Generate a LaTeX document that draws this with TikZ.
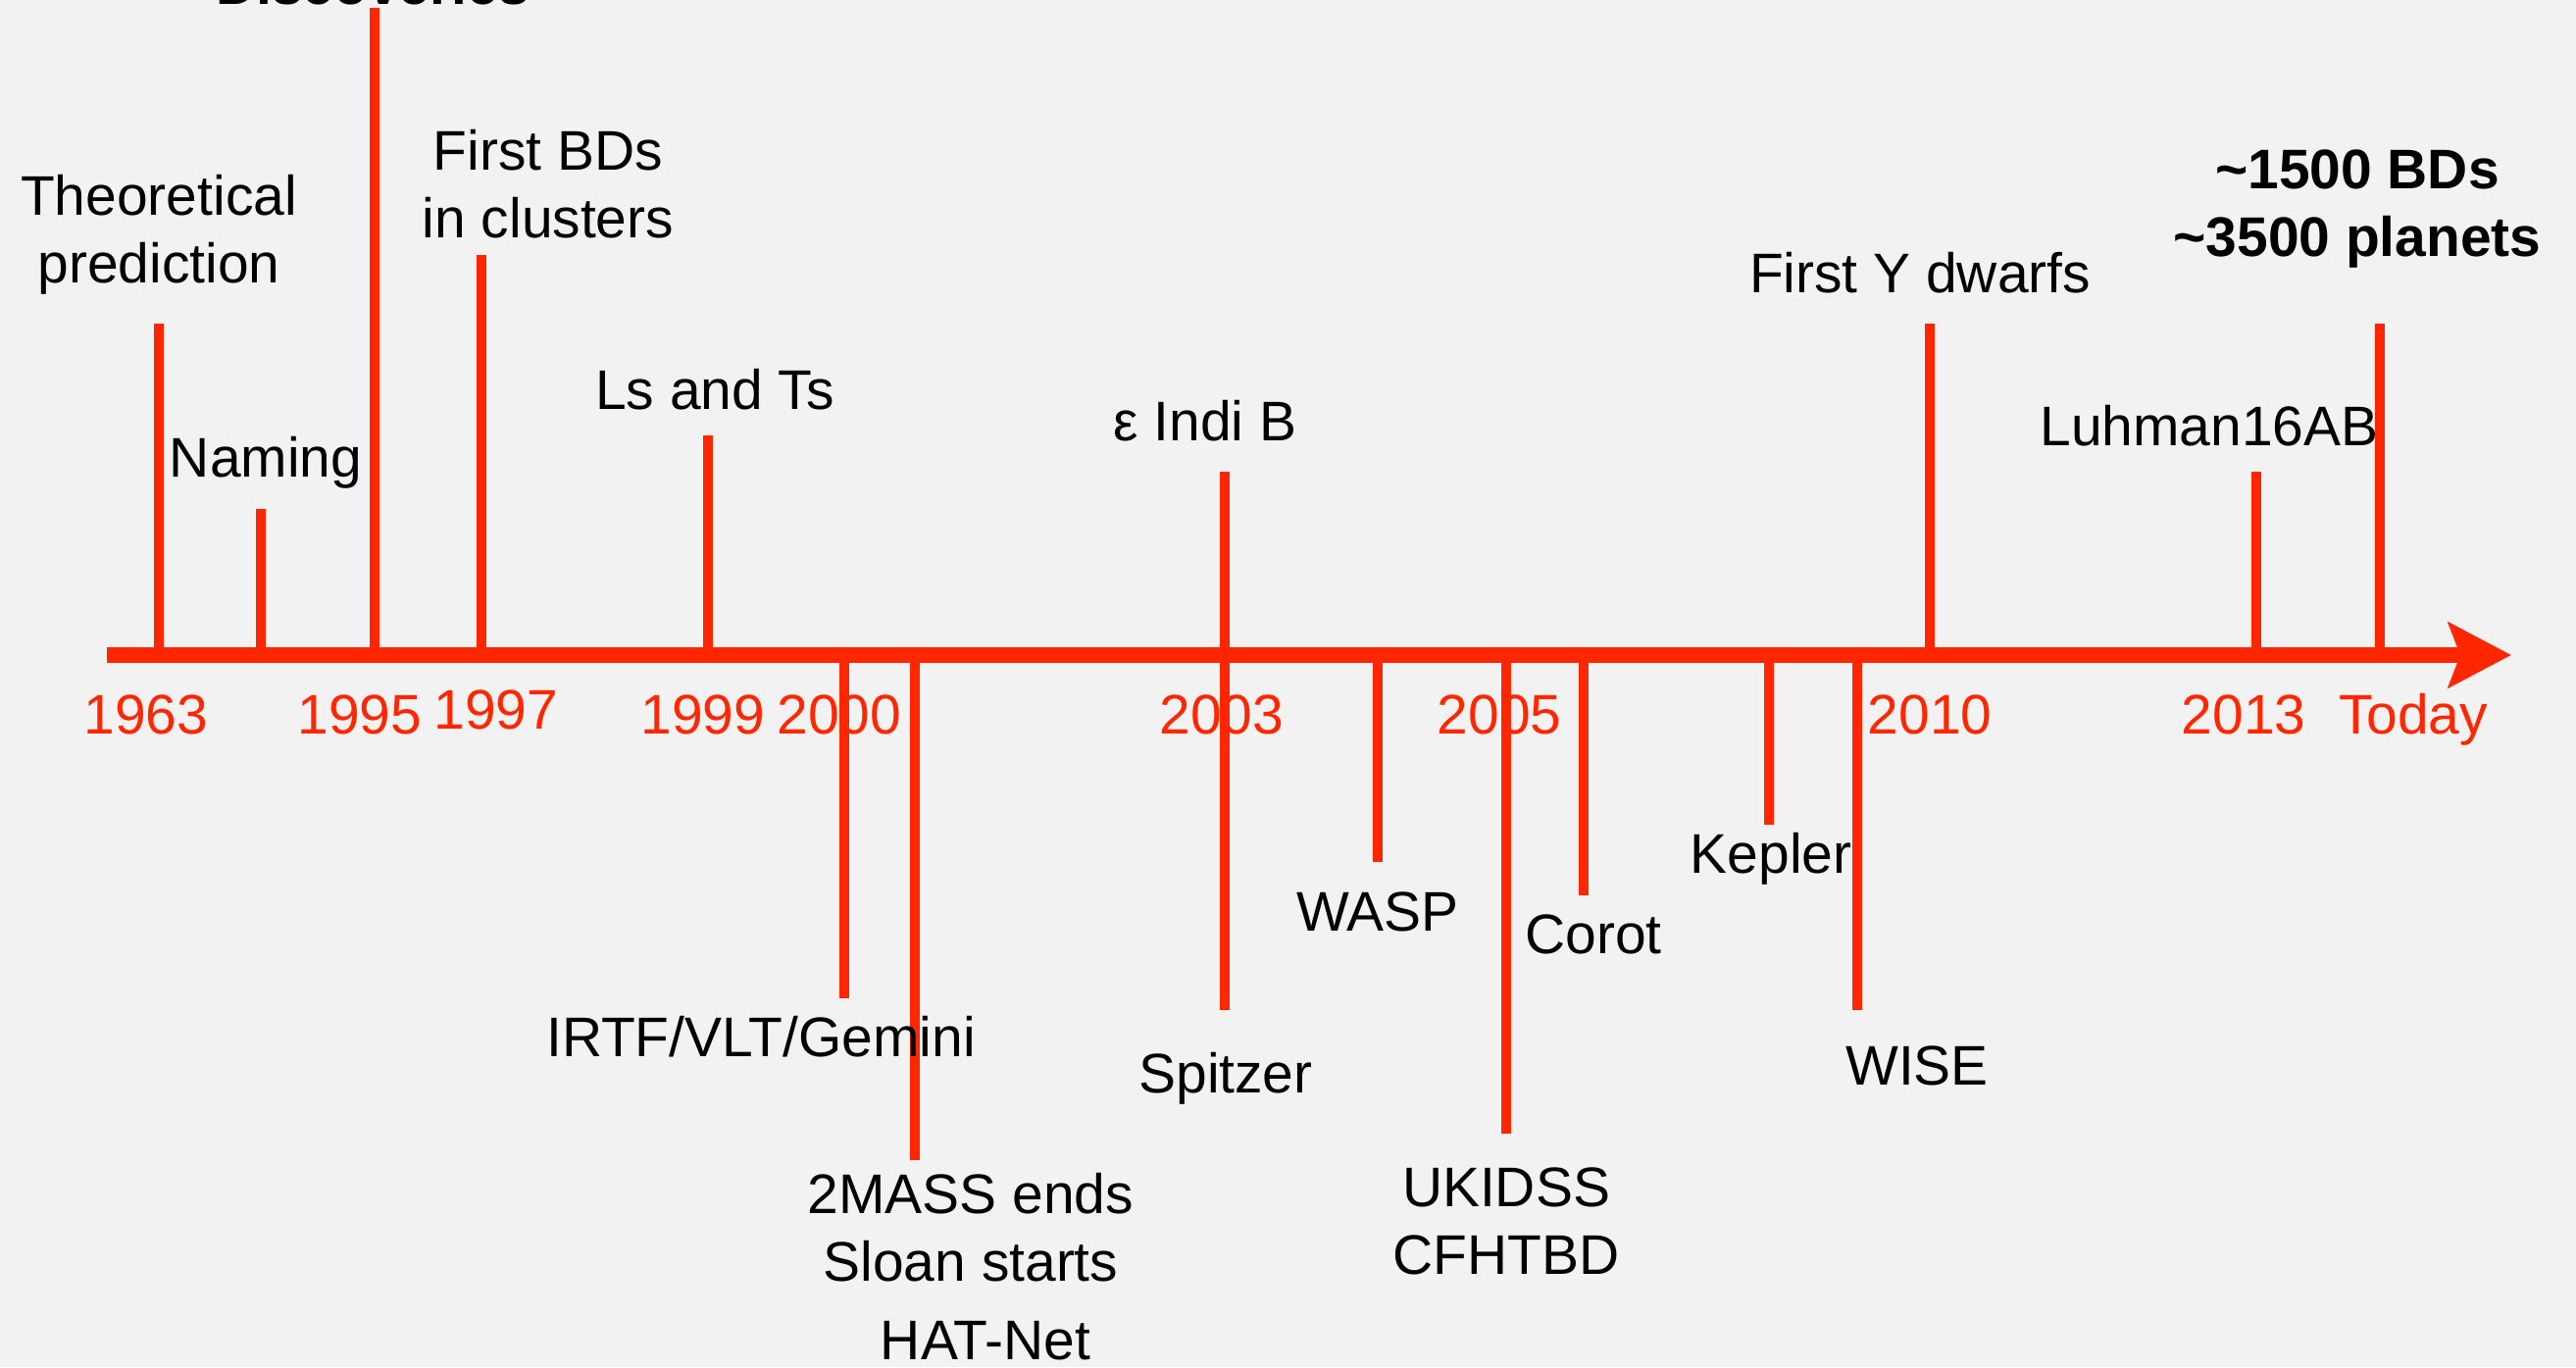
\documentclass[tikz,border=0pt]{standalone}
\usepackage{fontspec}
\setmainfont{Liberation Sans}
\usetikzlibrary{arrows.meta}
\definecolor{timered}{RGB}{255,38,0}
\definecolor{paper}{RGB}{242,242,242}
\tikzset{
  axis/.style={
    timered,
    line width=1.6mm,
    -{Stealth[length=6.4mm,width=6.6mm,inset=1.2mm]}
  },
  tick/.style={timered,line width=1.0mm},
  event/.style={
    inner sep=0pt,
    align=center,
    font=\fontsize{16.2}{19.6}\selectfont
  },
  milestone/.style={event,font=\fontsize{16.2}{19.6}\selectfont\bfseries},
  year/.style={
    inner sep=0pt,
    anchor=base,
    text=timered,
    font=\fontsize{16.2}{19.6}\selectfont
  }
}

\begin{document}
\begin{tikzpicture}[x=1cm,y=1cm]
  \useasboundingbox (0,0) rectangle (26.27,13.94);
  \clip (0,0) rectangle (26.27,13.94);
  \fill[paper] (0,0) rectangle (26.27,13.94);

  % Time axis.
  \coordinate (start) at (1.09,7.26);
  \coordinate (now) at (25.61,7.26);
  \draw[axis] (start) -- (now);

  % Events above the axis.
  \coordinate (u1) at (1.62,10.64);
  \coordinate (u2) at (2.66,8.75);
  \coordinate (u3) at (3.82,13.86);
  \coordinate (u4) at (4.91,11.34);
  \coordinate (u5) at (7.22,9.50);
  \coordinate (u6) at (12.49,9.13);
  \coordinate (u7) at (19.68,10.64);
  \coordinate (u8) at (23.01,9.13);
  \coordinate (u9) at (24.27,10.64);
  \foreach \n in {1,...,9}
    \draw[tick] (u\n |- start) -- (u\n);

  \node[event] (theory) at (1.62,11.55) {Theoretical\\prediction};
  \node[event] (naming) at (2.71,9.22) {Naming};
  \node[milestone] (disc) at (3.80,14.10) {Discoveries};
  \node[event] (clusters) at (5.59,12.06) {First BDs\\in clusters};
  \node[event] (lt) at (7.29,9.97) {Ls and Ts};
  \node[event] (eps) at (12.29,9.65) {ε Indi B};
  \node[event] (ydwarf) at (19.58,11.16) {First Y dwarfs};
  \node[event] (luhman) at (22.53,9.60) {Luhman16AB};
  \node[milestone] (counts) at (24.04,11.81)
    {\textasciitilde1500 BDs\\\textasciitilde3500 planets};

  % Surveys and missions below the axis.
  \coordinate (d1) at (8.61,3.76);
  \coordinate (d2) at (9.33,2.11);
  \coordinate (d3) at (12.49,3.64);
  \coordinate (d4) at (14.05,5.15);
  \coordinate (d5) at (15.36,2.38);
  \coordinate (d6) at (16.15,4.81);
  \coordinate (d7) at (18.04,5.53);
  \coordinate (d8) at (18.94,3.64);
  \foreach \n in {1,...,8}
    \draw[tick] (d\n |- start) -- (d\n);

  \node[event] (irtf) at (7.76,3.37) {IRTF/VLT/Gemini};
  \node[event] (twomass) at (9.90,1.42) {2MASS ends\\Sloan starts};
  \node[event] (hat) at (10.05,0.27) {HAT-Net};
  \node[event] (spitzer) at (12.50,2.94) {Spitzer};
  \node[event] (wasp) at (14.05,4.64) {WASP};
  \node[event] (ukidss) at (15.36,1.49) {UKIDSS\\CFHTBD};
  \node[event] (corot) at (16.25,4.41) {Corot};
  \node[event] (kepler) at (18.06,5.18) {Kepler};
  \node[event] (wise) at (19.55,3.07) {WISE};

  % Years.
  \node[year] (y1963) at (1.49,6.45) {1963};
  \node[year] (y1995) at (3.67,6.45) {1995};
  \node[year] (y1997) at (5.06,6.50) {1997};
  \node[year] (y1999) at (7.17,6.45) {1999};
  \node[year] (y2000) at (8.56,6.45) {2000};
  \node[year] (y2003) at (12.46,6.45) {2003};
  \node[year] (y2005) at (15.29,6.45) {2005};
  \node[year] (y2010) at (19.68,6.45) {2010};
  \node[year] (y2013) at (22.88,6.45) {2013};
  \node[year] (today) at (24.61,6.45) {Today};
\end{tikzpicture}
\end{document}
